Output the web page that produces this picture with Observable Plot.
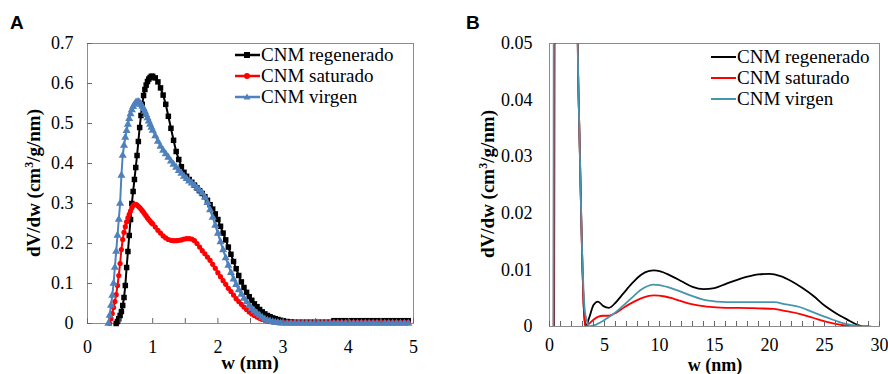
<!DOCTYPE html>
<html>
<head>
<meta charset="utf-8">
<script src="https://cdn.jsdelivr.net/npm/d3@7"></script>
<script src="https://cdn.jsdelivr.net/npm/@observablehq/plot@0.6"></script>
<style>
  html, body { margin: 0; padding: 0; background: #fff; }
  #wrap { position: relative; width: 888px; height: 374px; overflow: hidden; font-family: "Liberation Serif", "Times New Roman", serif; }
  .panel { position: absolute; top: 0; }
  .tag { position: absolute; font-family: "Liberation Sans", Arial, sans-serif; font-weight: bold; font-size: 19px; line-height: 1; }
  .alabel { position: absolute; font-family: "Liberation Serif", "Times New Roman", serif; font-weight: bold; font-size: 19px; line-height: 1; white-space: nowrap; transform: translate(-50%, -50%); }
  .ylab { transform: translate(-50%, -50%) rotate(-90deg); }
  .leg { position: absolute; font-size: 19px; line-height: 1; white-space: nowrap; }
  .leg svg { position: absolute; left: 0; top: 0; overflow: visible; }
  .leg span { position: absolute; top: -10px; }
</style>
</head>
<body>
<div id="wrap"></div>
<script>
// ---------- Panel A data (w in nm, dV/dw in cm3/g/nm) ----------
const wA = [
  0.32,0.34,0.36,0.38,0.40,0.42,0.44,0.46,0.48,0.50,
  0.52,0.54,0.56,0.58,0.60,0.62,0.64,0.66,0.68,0.70,
  0.72,0.74,0.76,0.78,0.80,0.82,0.84,0.86,0.88,0.90,
  0.92,0.94,0.96,0.98,1.00,
  1.04,1.08,1.12,1.16,1.20,1.24,1.28,1.32,1.36,1.40,
  1.44,1.48,1.52,1.56,1.60,1.64,1.68,1.72,1.76,1.80,
  1.84,1.88,1.92,1.96,2.00,2.04,2.08,2.12,2.16,2.20,
  2.24,2.28,2.32,2.36,2.40,2.44,2.48,2.52,2.56,2.60,
  2.64,2.68,2.72,2.76,2.80,2.84,2.88,2.92,2.96,3.00,
  3.06,3.12,3.18,3.24,3.30,3.36,3.42,3.48,3.54,3.60,
  3.66,3.72,3.78,3.84,3.90,3.96,4.02,4.08,4.14,4.20,
  4.26,4.32,4.38,4.44,4.50,4.56,4.62,4.68,4.74,4.80,
  4.86,4.92
];
const regeneradoA = [
  null,null,null,null,null,null,0.000,0.005,0.012,0.020,
  0.030,0.045,0.065,0.095,0.140,0.180,0.220,0.260,0.300,0.330,
  0.360,0.390,0.420,0.455,0.490,0.520,0.548,0.570,0.585,0.596,
  0.605,0.611,0.615,0.618,0.618,
  0.614,0.604,0.589,0.571,0.548,0.518,0.488,0.458,0.430,0.410,
  0.392,0.378,0.368,0.360,0.353,0.346,0.339,0.332,0.325,0.317,
  0.308,0.297,0.286,0.274,0.260,0.243,0.226,0.209,0.191,0.173,
  0.155,0.137,0.120,0.104,0.090,0.078,0.067,0.058,0.049,0.042,
  0.035,0.029,0.024,0.020,0.017,0.014,0.012,0.010,0.008,0.007,
  0.005,0.004,0.003,0.003,0.003,0.003,0.003,0.003,0.003,0.003,
  0.003,0.003,0.007,0.007,0.007,0.007,0.007,0.007,0.007,0.007,
  0.007,0.007,0.007,0.007,0.007,0.007,0.007,0.007,0.007,0.007,
  0.007,0.007
];
const saturadoA = [
  null,0.000,0.012,0.025,0.040,0.055,0.072,0.095,0.120,0.150,
  0.185,0.210,0.228,0.242,0.254,0.264,0.273,0.281,0.289,0.295,
  0.298,0.298,0.296,0.293,0.290,0.286,0.282,0.278,0.273,0.269,
  0.264,0.260,0.256,0.252,0.249,
  0.241,0.233,0.226,0.219,0.214,0.210,0.208,0.207,0.207,0.208,
  0.209,0.211,0.212,0.212,0.211,0.207,0.200,0.191,0.182,0.174,
  0.166,0.158,0.148,0.138,0.127,0.117,0.107,0.098,0.088,0.080,
  0.071,0.062,0.055,0.048,0.041,0.035,0.029,0.024,0.020,0.016,
  0.013,0.010,0.008,0.006,0.005,0.004,0.003,0.003,0.003,0.003,
  0.003,0.003,0.003,0.003,0.003,0.003,0.003,0.003,0.003,0.003,
  0.003,0.003,0.003,0.003,0.003,0.003,0.003,0.003,0.003,0.003,
  0.003,0.003,0.003,0.003,0.003,0.003,0.003,0.003,0.003,0.003,
  0.003,0.003
];
const virgenA = [
  0.000,0.020,0.045,0.070,0.100,0.140,0.180,0.220,0.260,0.300,
  0.370,0.420,0.445,0.465,0.482,0.498,0.512,0.524,0.534,0.542,
  0.548,0.552,0.554,0.554,0.552,0.548,0.543,0.537,0.530,0.522,
  0.514,0.506,0.498,0.490,0.483,
  0.469,0.455,0.443,0.433,0.424,0.415,0.406,0.398,0.390,0.382,
  0.375,0.368,0.362,0.356,0.351,0.345,0.339,0.333,0.326,0.316,
  0.302,0.284,0.265,0.245,0.225,0.204,0.184,0.164,0.145,0.127,
  0.111,0.097,0.084,0.073,0.063,0.054,0.045,0.037,0.031,0.025,
  0.020,0.015,0.011,0.008,0.006,0.004,0.003,0.002,0.001,0.001,
  0.000,0.000,0.000,0.000,0.000,0.000,0.000,0.000,0.000,0.000,
  0.000,0.000,0.000,0.000,0.000,0.000,0.000,0.000,0.000,0.000,
  0.000,0.000,0.000,0.000,0.000,0.000,0.000,0.000,0.000,0.000,
  0.000,0.000
];
const xTicksA = [0, 1, 2, 3, 4, 5];
const xMinorA = [0, 0.5, 1, 1.5, 2, 2.5, 3, 3.5, 4, 4.5, 5];
const yTicksA = [0, 0.1, 0.2, 0.3, 0.4, 0.5, 0.6, 0.7];

// ---------- Panel B data ----------
const regeneradoB_w = [0.42,0.50,0.70,1.00,1.50,2.00,2.30,2.50,2.60,2.70,2.80,2.90,3.00,3.10,3.20,3.30,3.60,4.00,4.40,4.90,5.40,6.00,6.70,7.50,8.30,9.00,9.50,10.0,11.0,12.0,13.0,14.0,15.0,16.0,17.0,18.0,19.0,20.0,21.0,22.0,23.0,24.0,25.0,26.0,27.0,28.0,28.5,29.0];
const regeneradoB_v = [0,0.12,0.33,0.62,0.37,0.26,0.13,0.065,0.045,0.036,0.027,0.018,0.010,0.004,0.001,0.0,0.0015,0.0038,0.0044,0.0036,0.0033,0.0042,0.0058,0.0076,0.0091,0.0098,0.0099,0.0098,0.0090,0.0080,0.0070,0.0066,0.0068,0.0075,0.0082,0.0088,0.0092,0.0093,0.0089,0.0080,0.0068,0.0054,0.0037,0.0024,0.0013,0.0003,0.0,0.0];
const saturadoB_w = [0.38,0.45,0.70,1.00,1.60,2.00,2.30,2.50,2.60,2.70,2.80,2.90,3.00,3.10,3.20,3.30,3.60,4.00,4.40,4.90,5.40,6.10,6.80,7.60,8.50,9.45,10.5,11.3,12.8,14.3,16.0,17.3,19.0,20.4,21.5,22.8,24.0,25.2,26.5,27.7];
const saturadoB_v = [0,0.10,0.30,0.25,0.21,0.127,0.09,0.06,0.045,0.036,0.027,0.018,0.010,0.004,0.001,0.0,0.0005,0.0012,0.0017,0.0019,0.0019,0.0025,0.0034,0.0043,0.0051,0.0055,0.0053,0.0049,0.0040,0.0035,0.0033,0.0033,0.0032,0.0031,0.0027,0.0022,0.0015,0.0008,0.0003,0.0];
const virgenB_w = [0.36,0.45,0.60,0.80,1.30,2.00,2.30,2.50,2.60,2.70,2.80,2.90,3.00,3.10,3.20,3.40,3.60,4.20,5.20,6.00,6.70,7.50,8.25,9.00,9.45,10.0,11.3,12.8,14.3,16.1,18.0,20.4,21.5,22.8,24.0,25.2,26.5,27.4,28.5,29.2];
const virgenB_v = [0,0.20,0.48,0.55,0.40,0.225,0.09,0.06,0.045,0.036,0.027,0.018,0.011,0.006,0.003,0.001,0.0,0.0003,0.0014,0.0025,0.0037,0.0051,0.0064,0.0072,0.0074,0.0073,0.0066,0.0055,0.0046,0.0043,0.0043,0.0043,0.0039,0.0034,0.0025,0.0016,0.0007,0.0003,0.0,0.0];
const xTicksB = [0, 5, 10, 15, 20, 25, 30];
const xMinorB = [0,1,2,3,4,5,6,7,8,9,10,11,12,13,14,15,16,17,18,19,20,21,22,23,24,25,26,27,28,29,30];
const yTicksB = [0, 0.01, 0.02, 0.03, 0.04, 0.05];

const seriesNames = ["CNM regenerado", "CNM saturado", "CNM virgen"];
const colorsA = ["#000000", "#ff0000", "#4f81bd"];
const colorsB = ["#000000", "#ff0000", "#4596ac"];
const symbolsA = ["square", "circle", "triangle"];

const zip = (ws, vs) => ws.map((w, i) => ({w, v: vs[i]}));
const wrap = document.getElementById("wrap");
const serif = "'Liberation Serif', 'Times New Roman', serif";

// ---------- Panel A ----------
const seriesA = [regeneradoA, saturadoA, virgenA].map(v => zip(wA, v));
const marksA = [Plot.frame({stroke: "#8c8c8c"})];
seriesA.forEach((d, i) => {
  marksA.push(Plot.line(d, {x: "w", y: "v", stroke: colorsA[i], strokeWidth: 2}));
  marksA.push(Plot.dot(d, {x: "w", y: "v", symbol: symbolsA[i], fill: colorsA[i], stroke: "none",
    r: i === 0 ? 3.1 : i === 1 ? 2.6 : 3.0}));
});
marksA.push(
  Plot.axisX(xMinorA, {anchor: "bottom", tickSize: -5, fill: "none", label: null, stroke: "#666"}),
  Plot.axisY(yTicksA, {anchor: "left", tickSize: -5, fill: "none", label: null, stroke: "#666"}),
  Plot.axisX(xTicksA, {anchor: "bottom", tickSize: 0, tickPadding: 17, tickFormat: d => String(d), fontSize: 18, fontFamily: serif, label: null}),
  Plot.axisY(yTicksA, {anchor: "left", tickSize: 0, tickPadding: 14, tickFormat: d => String(d), fontSize: 18, fontFamily: serif, label: null})
);
const plotA = Plot.plot({
  width: 440, height: 374,
  marginLeft: 87, marginRight: 27, marginTop: 43, marginBottom: 51,
  x: {domain: [0, 5]}, y: {domain: [0, 0.7]},
  style: {fontFamily: serif, fontSize: "18px", color: "#000", background: "transparent", overflow: "visible"},
  marks: marksA
});
plotA.classList.add("panel");
plotA.style.left = "0px";
wrap.appendChild(plotA);

// ---------- Panel B ----------
const seriesB = [zip(regeneradoB_w, regeneradoB_v), zip(saturadoB_w, saturadoB_v), zip(virgenB_w, virgenB_v)];
const marksB = [Plot.frame({stroke: "#8c8c8c"})];
seriesB.forEach((d, i) => {
  marksB.push(Plot.line(d, {x: "w", y: "v", stroke: colorsB[i], strokeWidth: 1.8, curve: "monotone-x", clip: true}));
});
marksB.push(
  Plot.axisX(xMinorB, {anchor: "bottom", tickSize: -5, fill: "none", label: null, stroke: "#666"}),
  Plot.axisX(xTicksB, {anchor: "bottom", tickSize: 0, tickPadding: 12, tickFormat: d => String(d), fontSize: 18, fontFamily: serif, label: null}),
  Plot.axisY(yTicksB, {anchor: "left", tickSize: 0, tickPadding: 17, tickFormat: d => String(d), fontSize: 18, fontFamily: serif, label: null})
);
const plotB = Plot.plot({
  width: 448, height: 374,
  marginLeft: 109, marginRight: 9, marginTop: 43, marginBottom: 48,
  x: {domain: [0, 30]}, y: {domain: [0, 0.05]},
  style: {fontFamily: serif, fontSize: "18px", color: "#000", background: "transparent", overflow: "visible"},
  marks: marksB
});
plotB.classList.add("panel");
plotB.style.left = "440px";
wrap.appendChild(plotB);

// ---------- Text labels ----------
function addDiv(cls, text, css) {
  const d = document.createElement("div");
  d.className = cls;
  d.innerHTML = text;
  Object.assign(d.style, css);
  wrap.appendChild(d);
  return d;
}
addDiv("tag", "A", {left: "10px", top: "13px"});
addDiv("tag", "B", {left: "466px", top: "13px"});
addDiv("alabel", "w (nm)", {left: "250px", top: "362px"});
addDiv("alabel", "w (nm)", {left: "715px", top: "365px", fontSize: "18px"});
addDiv("alabel ylab", "dV/dw (cm<sup style='font-size:12px;vertical-align:7px;line-height:0'>3</sup>/g/nm)", {left: "33px", top: "183px"});
addDiv("alabel ylab", "dV/dw (cm<sup style='font-size:12px;vertical-align:7px;line-height:0'>3</sup>/g/nm)", {left: "487px", top: "184px"});

// ---------- Legends ----------
function legend(x0, rows, colors, symbols) {
  rows.forEach((cy, i) => {
    const g = document.createElement("div");
    g.className = "leg";
    g.style.left = x0 + "px";
    g.style.top = cy + "px";
    const sym = symbols ? symbols[i] : null;
    let marker = "";
    if (sym === "square") marker = `<rect x="9" y="-3" width="6" height="6" fill="${colors[i]}"/>`;
    if (sym === "circle") marker = `<circle cx="12" cy="0" r="3" fill="${colors[i]}"/>`;
    if (sym === "triangle") marker = `<path d="M12,-3.5L15.5,2.5L8.5,2.5Z" fill="${colors[i]}"/>`;
    g.innerHTML = `<svg width="26" height="1"><line x1="0" x2="25" y1="0" y2="0" stroke="${colors[i]}" stroke-width="${symbols ? 2.5 : 2}"/>${marker}</svg><span style="left:26px">${seriesNames[i]}</span>`;
    wrap.appendChild(g);
  });
}
legend(235, [55, 76, 97], colorsA, symbolsA);
legend(711, [57, 78, 99], colorsB, null);
</script>
</body>
</html>
